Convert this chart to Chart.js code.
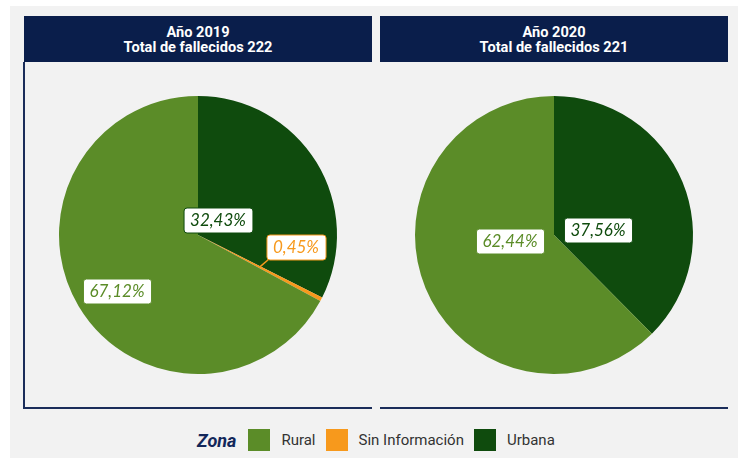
<!DOCTYPE html>
<html>
<head>
<meta charset="utf-8">
<script src="https://cdn.jsdelivr.net/npm/chart.js@4.4.0/dist/chart.umd.min.js"></script>
<style>
  html, body { margin: 0; padding: 0; background: #ffffff; }
  body { width: 744px; height: 464px; position: relative; overflow: hidden; font-family: Roboto, sans-serif; }
  #bg { position: absolute; left: 10px; top: 6px; width: 728px; height: 452px; background: #f2f2f2; }
  .head { position: absolute; top: 16px; height: 46px; width: 348px; background: #0a1e4b; color: #fff;
          font-weight: bold; font-size: 14.6px; line-height: 15px; text-align: center;
          display: flex; flex-direction: column; justify-content: center; padding-top: 2px; box-sizing: border-box; }
  .hline { position: absolute; top: 407px; height: 2px; background: #1b2d5a; }
  .vline { position: absolute; left: 23px; top: 62px; width: 2px; height: 347px; background: #1b2d5a; }
  canvas { position: absolute; top: 62px; }
  #legend { position: absolute; top: 429px; left: 197px; height: 22px; display: flex; align-items: center; }
  #legend .title { font-weight: bold; font-style: italic; font-size: 18px; color: #13275a; margin-right: 12px; }
  #legend .box { width: 22px; height: 22px; margin-right: 11px; }
  #legend .lab { font-size: 15px; color: #333; margin-right: 10px; }
</style>
</head>
<body>
<div id="bg"></div>
<div class="head" style="left:24px"><div>Año 2019</div><div>Total de fallecidos 222</div></div>
<div class="head" style="left:380px"><div>Año 2020</div><div>Total de fallecidos 221</div></div>
<div class="vline"></div>
<div class="hline" style="left:24px; width:348px"></div>
<div class="hline" style="left:380px; width:348px"></div>
<canvas id="pie2019" width="348" height="346" style="left:24px"></canvas>
<canvas id="pie2020" width="348" height="346" style="left:380px"></canvas>
<div id="legend"></div>
<script>
// categorías y valores (%)
const zonas = ['Urbana', 'Sin Información', 'Rural'];
const legendOrder = ['Rural', 'Sin Información', 'Urbana'];
const valores2019 = [32.43, 0.45, 67.12];
const valores2020 = [37.56, 0, 62.44];

const zonaColors = { 'Rural': '#5b8c28', 'Sin Información': '#f7991c', 'Urbana': '#0f4b0d' };

// leyenda
const legend = document.getElementById('legend');
legend.innerHTML = '<span class="title">Zona</span>' + legendOrder.map(z =>
    `<span class="box" style="background:${zonaColors[z]}"></span><span class="lab">${z}</span>`).join('');

// etiquetas con caja blanca
const boxLabels = {
    id: 'boxLabels',
    afterDatasetsDraw(chart, args, opts) {
        const ctx = chart.ctx;
        const meta = chart.getDatasetMeta(0);
        const data = chart.data.datasets[0].data;
        ctx.save();
        ctx.font = 'italic 17px Lato';
        ctx.textAlign = 'center';
        ctx.textBaseline = 'middle';
        meta.data.forEach((arc, i) => {
            if (!data[i]) return;
            const off = opts.offsets[i];
            const color = zonaColors[chart.data.labels[i]];
            const txt = data[i].toFixed(2).replace('.', ',') + '%';
            const cx = arc.x + off[0], cy = arc.y + off[1];
            const w = ctx.measureText(txt).width + 13, h = 25;
            if (off[2]) {
                const mid = (arc.startAngle + arc.endAngle) / 2;
                const px = arc.x + Math.cos(mid) * arc.outerRadius * off[2];
                const py = arc.y + Math.sin(mid) * arc.outerRadius * off[2];
                ctx.strokeStyle = color;
                ctx.lineWidth = 1.5;
                ctx.beginPath();
                ctx.moveTo(px, py);
                ctx.lineTo(cx - w / 2 + 2, cy + h / 2);
                ctx.stroke();
            }
            ctx.fillStyle = '#ffffff';
            ctx.strokeStyle = color;
            ctx.lineWidth = 1;
            ctx.beginPath();
            ctx.roundRect(cx - w / 2 + 0.5, cy - h / 2 + 0.5, w, h, 3);
            ctx.fill();
            ctx.stroke();
            ctx.fillStyle = color;
            ctx.fillText(txt, cx, cy + 1);
        });
        ctx.restore();
    }
};

function makePie(id, values, offsets) {
    new Chart(document.getElementById(id), {
        type: 'pie',
        data: {
            labels: zonas,
            datasets: [{
                data: values,
                backgroundColor: zonas.map(z => zonaColors[z]),
                borderWidth: 0
            }]
        },
        options: {
            responsive: false,
            animation: false,
            radius: 139,
            layout: { padding: 0 },
            plugins: {
                legend: { display: false },
                tooltip: { enabled: false },
                boxLabels: { offsets: offsets }
            }
        },
        plugins: [boxLabels]
    });
}

makePie('pie2019', valores2019, [[20, -15], [98, 12, 0.5], [-81, 56]]);
makePie('pie2020', valores2020, [[44, -5], [0, 0], [-44, 6]]);
</script>
</body>
</html>
